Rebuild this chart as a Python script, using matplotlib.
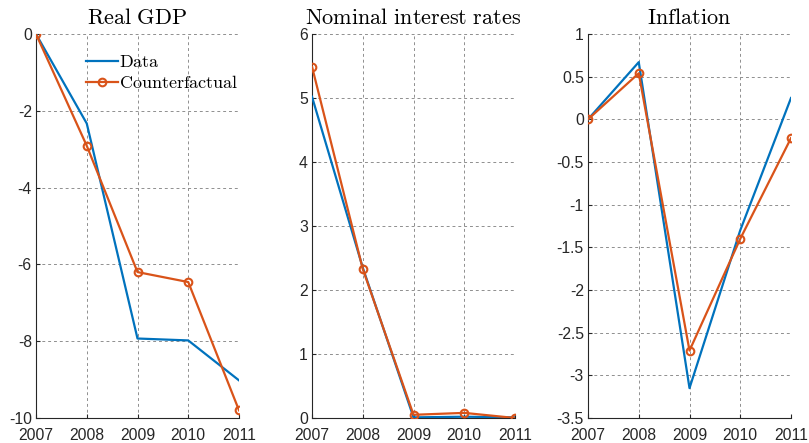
import matplotlib.pyplot as plt

years = [2007, 2008, 2009, 2010, 2011]

gdp_data = [0.0, -2.33, -7.93, -7.98, -9.02]
gdp_cf = [0.0, -2.91, -6.2, -6.46, -9.8]

rate_data = [5.02, 2.35, 0.01, 0.02, 0.01]
rate_cf = [5.49, 2.33, 0.05, 0.08, 0.0]

infl_data = [0.0, 0.67, -3.15, -1.3, 0.25]
infl_cf = [0.0, 0.54, -2.71, -1.4, -0.22]

titles = ["Real GDP", "Nominal interest rates", "Inflation"]
ylims = [(-10, 0), (0, 6), (-3.5, 1)]
yticks = [
    [-10, -8, -6, -4, -2, 0],
    [0, 1, 2, 3, 4, 5, 6],
    [-3.5, -3, -2.5, -2, -1.5, -1, -0.5, 0, 0.5, 1],
]
series = [(gdp_data, gdp_cf), (rate_data, rate_cf), (infl_data, infl_cf)]

blue = "#0072BD"
orange = "#D95319"
axcol = "#262626"

plt.rcParams["font.family"] = ["Liberation Sans", "DejaVu Sans"]
plt.rcParams["mathtext.fontset"] = "cm"


def tex(s):
    return r"$\mathrm{" + s.replace(" ", r"\ ") + "}$"


fig = plt.figure(figsize=(8.09, 4.43), dpi=100)
lefts = [36 / 809, 312 / 809, 588 / 809]
for i in range(3):
    ax = fig.add_axes([lefts[i], 1 - 418 / 443, 203 / 809, 384 / 443])
    d, c = series[i]
    ax.plot(years, d, color=blue, lw=1.6, label=tex("Data"), zorder=3)
    ax.plot(years, c, color=orange, lw=1.6, marker="o", ms=5.5,
            mfc="none", mew=1.5, label=tex("Counterfactual"), zorder=4)
    ax.set_xlim(2007, 2011)
    ax.set_ylim(*ylims[i])
    ax.set_xticks(years)
    ax.set_yticks(yticks[i])
    ax.set_yticklabels([("%g" % v) for v in yticks[i]])
    ax.grid(True, ls=(0, (3, 3)), color="#8f8f8f", lw=0.7)
    ax.set_axisbelow(True)
    for s in ["top", "right"]:
        ax.spines[s].set_visible(False)
    for s in ["left", "bottom"]:
        ax.spines[s].set_color(axcol)
        ax.spines[s].set_linewidth(0.8)
    ax.tick_params(direction="in", length=3, colors=axcol, labelsize=11.3)
    ax.tick_params(axis="x", pad=7)
    ax.tick_params(axis="y", pad=3)
    ax.set_title(tex(titles[i]), fontsize=16, pad=7)
    if i == 0:
        ax.legend(loc="upper right", bbox_to_anchor=(0.995, 0.948), frameon=False,
                  fontsize=13, handlelength=1.75, handletextpad=0.05,
                  labelspacing=0.25, borderaxespad=0.0, borderpad=0.0)

fig.savefig("out.png", dpi=100)
